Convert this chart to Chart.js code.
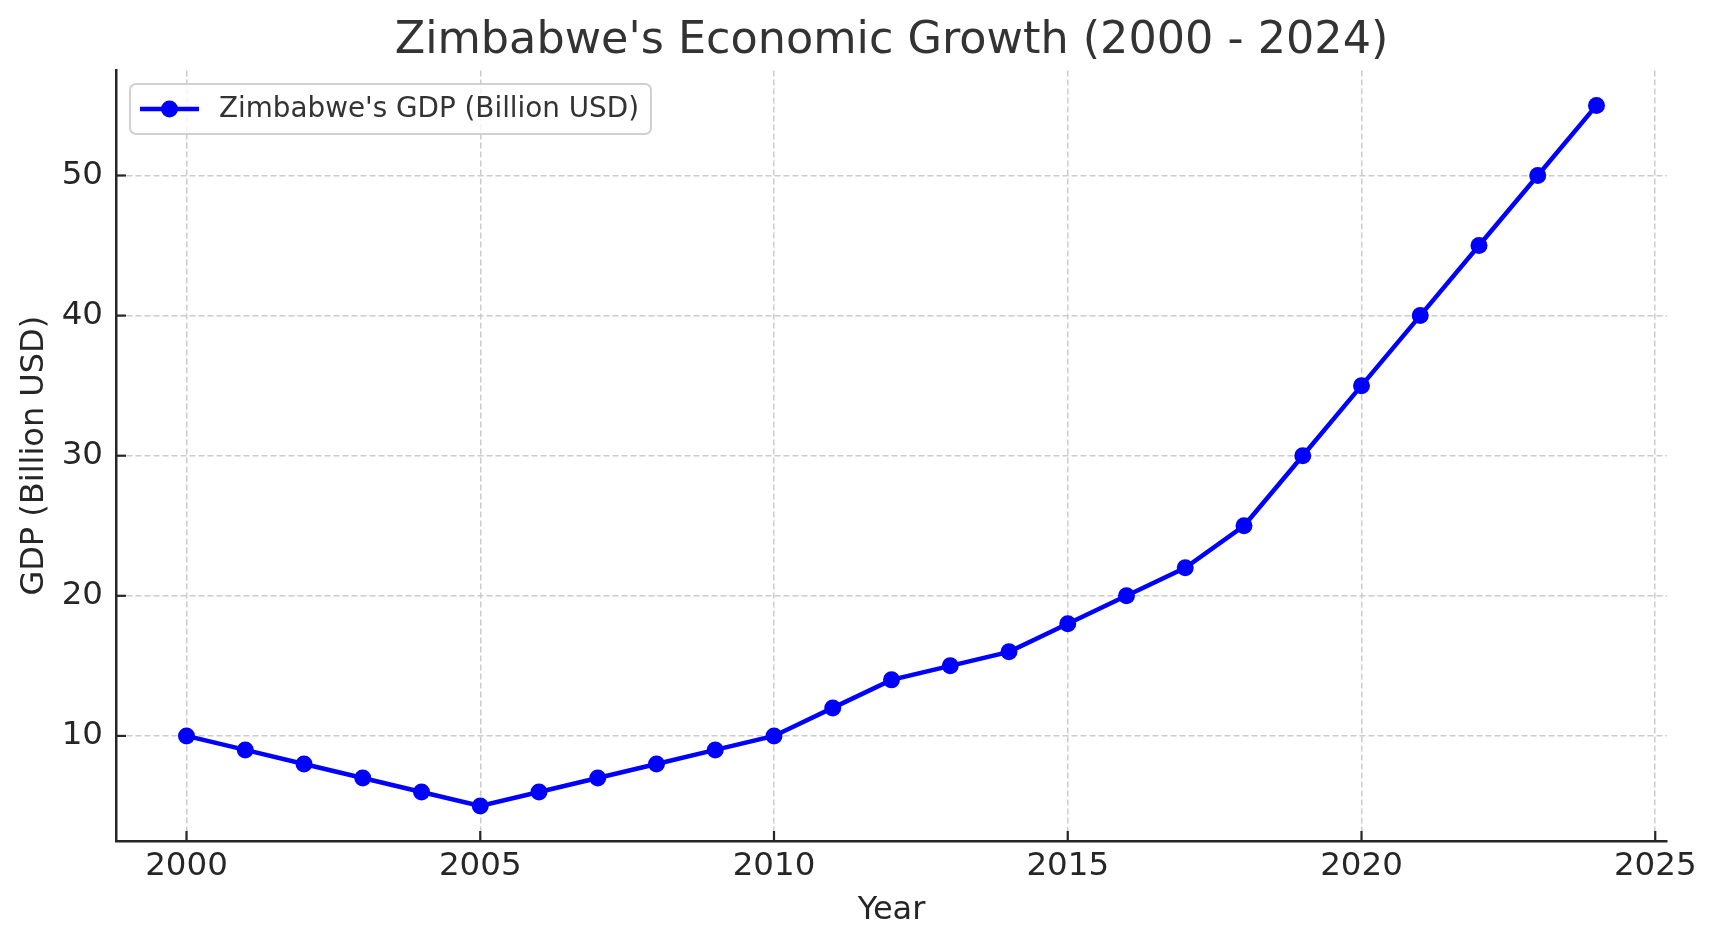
<!DOCTYPE html>
<html>
<head>
<meta charset="utf-8">
<script src="https://cdn.jsdelivr.net/npm/chart.js@4/dist/chart.umd.min.js"></script>
<style>
  body { margin: 0; background: #fff; }
</style>
</head>
<body>
<canvas id="gdpChart" width="1717" height="947"></canvas>
<script>
// dados
const years = [2000, 2001, 2002, 2003, 2004, 2005, 2006, 2007, 2008, 2009, 2010, 2011, 2012,
  2013, 2014, 2015, 2016, 2017, 2018, 2019, 2020, 2021, 2022, 2023, 2024];
const gdp = [10, 9, 8, 7, 6, 5, 6, 7, 8, 9, 10, 12, 14, 15, 16, 18, 20, 22, 25, 30, 35, 40, 45, 50, 55];
const xTicks = [2000, 2005, 2010, 2015, 2020, 2025];
const yTicks = [10, 20, 30, 40, 50];
const seriesLabel = "Zimbabwe's GDP (Billion USD)";

const FONT = "'DejaVu Sans', sans-serif";
const INK = '#262626';

// ticks para dentro, como no matplotlib
const innerTicks = {
  id: 'innerTicks',
  afterDatasetsDraw(chart) {
    const ctx = chart.ctx;
    const { x, y } = chart.scales;
    ctx.save();
    ctx.strokeStyle = INK;
    ctx.lineWidth = 2.2;
    x.ticks.forEach(t => {
      const px = x.getPixelForValue(t.value);
      ctx.beginPath();
      ctx.moveTo(px, x.top);
      ctx.lineTo(px, x.top - 10);
      ctx.stroke();
    });
    y.ticks.forEach(t => {
      const py = y.getPixelForValue(t.value);
      ctx.beginPath();
      ctx.moveTo(y.right, py);
      ctx.lineTo(y.right + 10, py);
      ctx.stroke();
    });
    ctx.restore();
  }
};

// legenda com linha + marcador dentro da área
const boxLegend = {
  id: 'boxLegend',
  afterDraw(chart) {
    const ctx = chart.ctx;
    const ds = chart.data.datasets[0];
    const left = 130, top = 84, w = 521, h = 50;
    ctx.save();
    ctx.beginPath();
    ctx.roundRect(left, top, w, h, 6);
    ctx.fillStyle = 'rgba(255,255,255,0.8)';
    ctx.fill();
    ctx.strokeStyle = '#d0d0d0';
    ctx.lineWidth = 2;
    ctx.stroke();
    const cy = top + h / 2;
    ctx.strokeStyle = ds.borderColor;
    ctx.lineWidth = ds.borderWidth;
    ctx.beginPath();
    ctx.moveTo(left + 10, cy);
    ctx.lineTo(left + 69, cy);
    ctx.stroke();
    ctx.fillStyle = ds.pointBackgroundColor;
    ctx.beginPath();
    ctx.arc(left + 39.5, cy, ds.pointRadius, 0, Math.PI * 2);
    ctx.fill();
    ctx.fillStyle = '#333333';
    ctx.font = '27.8px ' + FONT;
    ctx.textBaseline = 'middle';
    ctx.textAlign = 'left';
    ctx.fillText(ds.label, left + 89, cy + 1);
    ctx.restore();
  }
};

const ctx = document.getElementById('gdpChart').getContext('2d');

const gdpChart = new Chart(ctx, {
  type: 'line',
  data: {
    datasets: [{
      label: seriesLabel,
      data: years.map((yr, i) => ({ x: yr, y: gdp[i] })),
      borderColor: '#0000ff',
      backgroundColor: '#0000ff',
      borderWidth: 4.5,
      pointRadius: 8.5,
      pointHoverRadius: 8.5,
      pointBackgroundColor: '#0000ff',
      pointBorderWidth: 0,
      tension: 0,
      fill: false,
    }]
  },
  options: {
    responsive: false,
    animation: false,
    layout: {
      padding: { left: 15, right: 50, top: 0, bottom: 17 }
    },
    plugins: {
      legend: { display: false },
      tooltip: { enabled: false },
      title: {
        display: true,
        fullSize: false,
        text: "Zimbabwe's Economic Growth (2000 - 2024)",
        color: '#333333',
        font: { family: FONT, size: 44.5, weight: 'normal', lineHeight: 1.2 },
        padding: { top: 15, bottom: 2 }
      }
    },
    scales: {
      x: {
        type: 'linear',
        position: 'bottom',
        min: 1998.8,
        max: 2025.2,
        afterBuildTicks: (scale) => { scale.ticks = xTicks.map(v => ({ value: v })); },
        afterFit: (scale) => { scale.height = 89; },
        title: {
          display: true,
          text: 'Year',
          color: INK,
          font: { family: FONT, size: 32 },
          padding: 0
        },
        ticks: {
          color: INK,
          font: { family: FONT, size: 32.5 },
          padding: 6,
          maxRotation: 0,
          callback: (v) => String(v)
        },
        grid: {
          color: '#cccccc',
          lineWidth: 1.5,
          drawTicks: false
        },
        border: {
          display: true,
          color: INK,
          width: 2.5,
          dash: [6, 3]
        }
      },
      y: {
        type: 'linear',
        min: 2.5,
        max: 57.5,
        afterBuildTicks: (scale) => { scale.ticks = yTicks.map(v => ({ value: v })); },
        afterFit: (scale) => { scale.width = 101; },
        title: {
          display: true,
          text: 'GDP (Billion USD)',
          color: INK,
          font: { family: FONT, size: 32 },
          padding: 0
        },
        ticks: {
          color: INK,
          font: { family: FONT, size: 32.5 },
          padding: 13
        },
        grid: {
          color: '#cccccc',
          lineWidth: 1.5,
          drawTicks: false
        },
        border: {
          display: true,
          color: INK,
          width: 2.5,
          dash: [6, 3]
        }
      }
    }
  },
  plugins: [innerTicks, boxLegend]
});
</script>
</body>
</html>
